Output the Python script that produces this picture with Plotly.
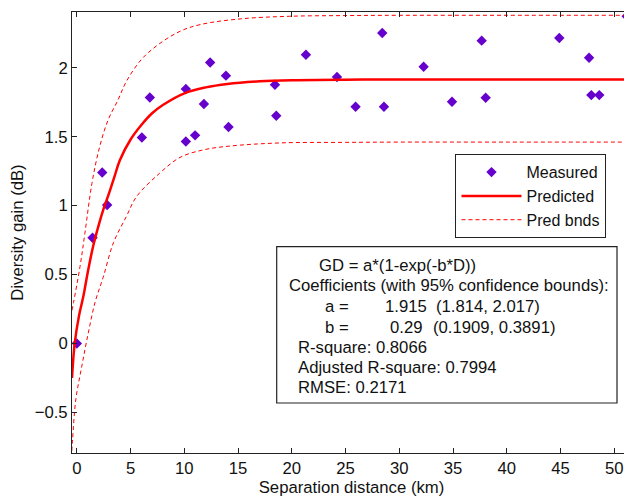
import plotly.graph_objects as go

# Measured data
dist_km = [0, 1.46, 2.36, 2.82, 6.05, 6.79, 10.14, 10.14, 11.0, 11.82, 12.4, 13.87, 14.11,
           18.43, 18.55, 21.31, 24.2, 25.93, 28.41, 28.57, 32.26, 34.9, 37.66, 38.03,
           44.88, 47.65, 47.86, 48.6, 51.15]
gain_db = [0.0, 0.767, 1.24, 1.005, 1.494, 1.785, 1.465, 1.846, 1.51, 1.737, 2.039, 1.943, 1.57,
           1.877, 1.652, 2.095, 1.933, 1.717, 2.253, 1.717, 2.008, 1.754, 2.197, 1.783,
           2.216, 2.073, 1.802, 1.802, 2.374]

# Predicted curve
pred_d = [-0.45, -0.2, 0.2, 0.6, 1.0, 1.5, 2.0, 2.5, 3.0, 3.5, 4.0, 5.0, 6.0, 7.0, 8.0,
          10, 12, 14, 17, 20, 25, 30, 40, 51.6]
pred_v = [-0.25, 0.0, 0.2, 0.34, 0.51, 0.70, 0.85, 0.98, 1.09, 1.21, 1.33, 1.48, 1.585, 1.67, 1.73,
          1.815, 1.858, 1.883, 1.902, 1.91, 1.914, 1.915, 1.915, 1.915]

# Prediction bounds
up_d = [-0.45, -0.3, 0.3, 0.75, 1.4, 2.1, 2.9, 3.85, 4.6, 6.0, 7.6, 9.6, 11.5, 15.2, 19.8,
        25, 30, 40, 51.6]
up_v = [0.24, 0.30, 0.56, 0.80, 1.16, 1.42, 1.62, 1.77, 1.90, 2.06, 2.17, 2.265, 2.314, 2.355,
        2.374, 2.379, 2.381, 2.381, 2.381]
lo_d = [-0.47, -0.4, -0.1, 0.45, 1.05, 1.7, 2.45, 3.4, 4.6, 5.55, 7.7, 9.6, 11.8, 14.2, 18.9,
        25, 30, 40, 51.6]
lo_v = [-0.78, -0.70, -0.41, -0.17, 0.07, 0.30, 0.48, 0.73, 0.92, 1.065, 1.235, 1.35, 1.405,
        1.432, 1.455, 1.459, 1.461, 1.461, 1.461]

fit_lines = [
    ("GD = a*(1-exp(-b*D))", 317, 265),
    ("Coefficients (with 95% confidence bounds):", 286.7, 285.7),
    ("a =", 322.7, 306.7),
    ("1.915", 382.7, 306.7),
    ("(1.814, 2.017)", 434, 306.7),
    ("b =", 322.7, 327.3),
    ("0.29", 388.3, 327.3),
    ("(0.1909, 0.3891)", 431.3, 327.3),
    ("R-square: 0.8066", 295.7, 347.3),
    ("Adjusted R-square: 0.7994", 295.7, 367.3),
    ("RMSE: 0.2171", 295.7, 387.7),
]

FONT = "Liberation Sans, Arial, sans-serif"
FS = 16.7
OFF = 8  # page offset of the figure in the browser window
W, H = 632, 500
# target plot area in window pixels
PX0, PX1, PY0, PY1 = 72, 631, 12, 453
L = PX0 - OFF
T = PY0 - OFF
R = (W + OFF) - PX1
B = (H + OFF) - PY1
PW, PH = PX1 - PX0, PY1 - PY0

def px(x):
    return (x - PX0) / PW

def py(y):
    return (PY1 - y) / PH

fig = go.Figure()
fig.add_trace(go.Scatter(x=dist_km, y=gain_db, mode="markers", name="Measured",
                         marker=dict(symbol="diamond", size=8, color="#6600cc",
                                     line=dict(width=0))))
fig.add_trace(go.Scatter(x=pred_d, y=pred_v, mode="lines", name="Predicted",
                         line=dict(color="#ff0000", width=2.5, shape="spline")))
fig.add_trace(go.Scatter(x=up_d, y=up_v, mode="lines", name="Pred bnds",
                         line=dict(color="#ff0000", width=1, dash="4px,3px", shape="spline")))
fig.add_trace(go.Scatter(x=lo_d, y=lo_v, mode="lines", name="Pred bnds", showlegend=False,
                         line=dict(color="#ff0000", width=1, dash="4px,3px", shape="spline")))

axis_common = dict(showline=True, linecolor="#222", linewidth=1, mirror="ticks",
                   ticks="inside", ticklen=5, tickcolor="#222", showgrid=False, zeroline=False,
                   tickfont=dict(family=FONT, size=FS, color="#111"))

fig.update_xaxes(range=[-0.45, 51.55], dtick=5, tick0=0,
                 title=dict(text="Separation distance (km)", font=dict(family=FONT, size=FS, color="#111"),
                            standoff=3), **axis_common)
fig.update_yaxes(range=[-0.795, 2.405], dtick=0.5, tick0=0,
                 title=dict(text="Diversity gain (dB)", font=dict(family=FONT, size=FS, color="#111"),
                            standoff=6), **axis_common)

shapes = [dict(type="rect", xref="paper", yref="paper", x0=px(276.7), x1=px(617),
               y0=py(403), y1=py(246.7), line=dict(color="#222", width=1.2), fillcolor="white",
               layer="above")]
annotations = []
for text, x, y in fit_lines:
    annotations.append(dict(text=text, xref="paper", yref="paper", x=px(x), y=py(y),
                            xanchor="left", yanchor="middle", showarrow=False,
                            font=dict(family=FONT, size=FS, color="#111")))

fig.update_layout(
    width=W, height=H,
    margin=dict(l=L, r=R, t=T, b=B),
    paper_bgcolor="white", plot_bgcolor="white",
    shapes=shapes, annotations=annotations,
    legend=dict(x=px(455.3), y=py(154), xanchor="left", yanchor="top",
                bgcolor="white", bordercolor="#222", borderwidth=1.2,
                font=dict(family=FONT, size=16, color="#111"), itemwidth=60,
                tracegroupgap=0),
    showlegend=True,
)

fig.write_html("out.html")
